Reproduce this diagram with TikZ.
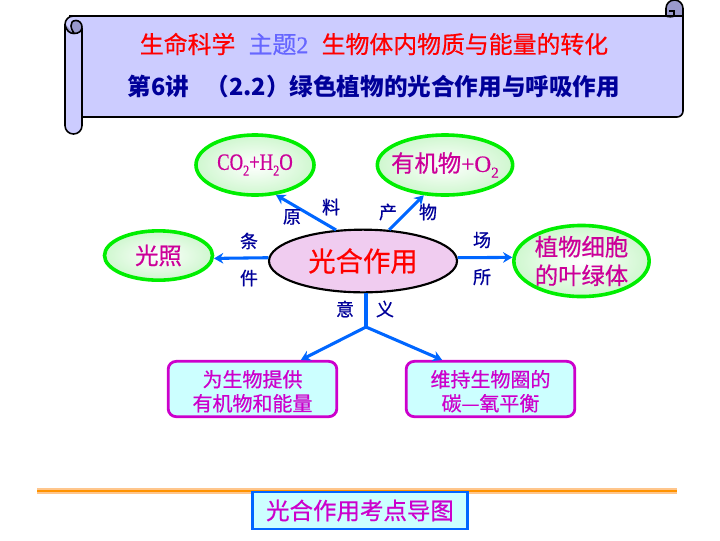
\documentclass[tikz,border=0pt]{standalone}
\usepackage{fontspec}
\usepackage{graphicx}
\setmainfont{Liberation Serif}
\newfontfamily\cjk[FakeBold=0.6]{Noto Sans CJK SC}
\newfontfamily\cjkplain{Noto Sans CJK SC}
\newfontfamily\serifheavy[FakeBold=0.6]{Liberation Serif}
\usetikzlibrary{shapes.geometric,arrows.meta}
\definecolor{scrollfill}{HTML}{CCCCFF}
\definecolor{scrolldark}{HTML}{9999CC}
\definecolor{navy}{HTML}{000099}
\definecolor{arrowblue}{HTML}{0066FF}
\definecolor{pinktext}{HTML}{CC0099}
\definecolor{magtext}{HTML}{CC00CC}
\definecolor{cyanfill}{HTML}{CCFFFF}
\definecolor{lime}{HTML}{00EE00}
\definecolor{palegreen}{HTML}{CFF7CF}
\definecolor{mainfill}{HTML}{F0CCF0}
\newcommand{\sub}[1]{\raisebox{-0.25em}{\scalebox{0.65}{#1}}}
\tikzset{
  x=0.75pt,y=-0.75pt,
  goal/.style={ellipse,draw=lime,line width=2.7pt,inner color=white,outer color=palegreen,inner sep=0pt,text=pinktext,align=center,font=\cjk\fontsize{17.5pt}{21.5pt}\selectfont},
  mainnode/.style={ellipse,draw=black,line width=1.6pt,fill=mainfill,inner sep=0pt,text=red,font=\cjk\fontsize{20.5pt}{24pt}\selectfont,minimum width=141pt,minimum height=47pt},
  meaning/.style={draw=magtext,line width=2.1pt,fill=cyanfill,rounded corners=6pt,inner sep=0pt,text=magtext,align=center,minimum width=126.5pt,minimum height=41.5pt,font=\cjk\fontsize{15pt}{18pt}\selectfont},
  tag/.style={text=navy,inner sep=0pt,font=\cjk\fontsize{13.5pt}{16pt}\selectfont},
  link/.style={draw=arrowblue,line width=2.3pt},
  linkarrow/.style={link,-{Stealth[length=7pt,width=8pt]}},
  scrollline/.style={draw=black,line width=1.2pt}
}
\begin{document}
\begin{tikzpicture}
\useasboundingbox (0,0) rectangle (720,540);
% scroll
\draw[scrollline,fill=scrolldark,rounded corners=6.3pt] (666,22) -- (666,0) -- (683,0) -- (683,22);
\draw[scrollline,fill=scrollfill] (70,16) -- (683,16) [rounded corners=4.5pt] -- (683,117) -- (70,117) [sharp corners] -- cycle;
\fill[scrollfill,rounded corners=6.3pt] (65,16) rectangle (82,134);
\draw[scrollline,rounded corners=6.3pt] (82,28) -- (82,134) -- (65,134) -- (65,16) -- (80,16);
\draw[scrollline,fill=scrolldark] (65,24) .. controls (66,31) and (70,33.5) .. (74,33.5) .. controls (79,33.5) and (82,31) .. (82,27) .. controls (82,23) and (79,20.5) .. (76,20.5) .. controls (72,20.5) and (71,23) .. (71,26) .. controls (71,30) and (75,33.5) .. (74,33.5);
\draw[scrollline] (666,16) .. controls (668,17) and (673,17) .. (674,16) -- (674,11) -- (669,11);
% titles
\node (title1) at (374,44) [inner sep=0pt,font=\cjk\fontsize{17.9pt}{20pt}\selectfont,text=red] {生命科学\hspace{10pt}\textcolor[HTML]{6666FF}{主题{\serifheavy 2}}\hspace{10pt}生物体内物质与能量的转化};
\node (title2) at (374,87) [inner sep=0pt,font=\cjkplain\bfseries\fontsize{17.7pt}{20pt}\selectfont,text=navy] {第6讲\hspace{12pt}（2.2）绿色植物的光合作用与呼吸作用};
% nodes
\node[mainnode] (main) at (363,261) {光合作用};
\node[goal,minimum width=88.5pt,minimum height=45pt] (co2) at (255,165) {\scalebox{0.8}[1]{\serifheavy CO\sub{2}+H\sub{2}O}};
\node[goal,inner sep=-12pt,minimum width=101.5pt,minimum height=45pt] (org) at (445,165) {有机物{\serifheavy +O\sub{2}}};
\node[goal,minimum width=81pt,minimum height=37pt] (light) at (158.5,255.5) {光照};
\node[goal,minimum width=101.5pt,minimum height=53pt] (plant) at (581.5,261) {植物细胞\\的叶绿体};
\node[meaning] (left) at (252.5,389) {\rule{0pt}{16pt}为生物提供\\有机物和能量};
\node[meaning] (right) at (490.5,389) {\rule{0pt}{16pt}维持生物圈的\\碳—氧平衡};
% connectors
\draw[linkarrow] (main.131) -- (co2.-55);
\draw[linkarrow] (main.50) -- (org.235);
\draw[linkarrow] (main.178) -- (light.-3);
\draw[linkarrow] (main.2) -- (plant.177);
\coordinate (fork) at (366,327);
\draw[link] (main.south -| fork) -- (fork);
\draw[linkarrow] (fork) -- (left.31);
\draw[linkarrow] (fork) -- (right.149);
% tags
\node[tag] (t1) at (292,217) {原};
\node[tag] (t2) at (331,207) {料};
\node[tag] (t3) at (388,212) {产};
\node[tag] (t4) at (428,212) {物};
\node[tag] (t5) at (249,241) {条};
\node[tag] (t6) at (249,278) {件};
\node[tag] (t7) at (482,240) {场};
\node[tag] (t8) at (482,277) {所};
\node[tag] (t9) at (345,309) {意};
\node[tag] (t10) at (385,309) {义};
% bottom
\coordinate (ruleL) at (37,491);
\coordinate (ruleR) at (677,491);
\draw[draw=orange!45!white,line width=3.8pt] (ruleL) -- (ruleR);
\draw[draw=orange!85!yellow,line width=2pt] (ruleL) -- (ruleR);
\node (caption) at (360,510.5) [draw=arrowblue,line width=1.8pt,fill=cyanfill,inner sep=0pt,minimum width=161pt,minimum height=28pt,text=magtext,font=\cjk\fontsize{17.6pt}{20pt}\selectfont] {光合作用考点导图};
\end{tikzpicture}
\end{document}
